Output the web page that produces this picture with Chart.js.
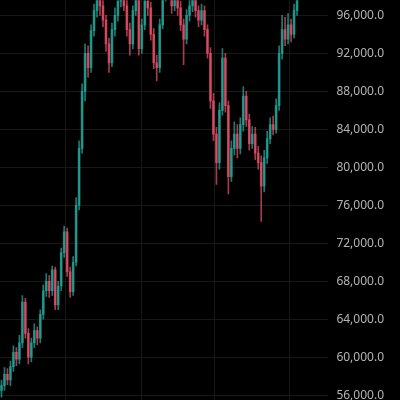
<!DOCTYPE html>
<html>
<head>
<meta charset="utf-8">
<script src="https://cdn.jsdelivr.net/npm/chart.js@4"></script>
<style>
  html, body { margin: 0; padding: 0; background: #000; overflow: hidden; }
  #wrap { position: relative; top: -15px; width: 400px; height: 432px; }
</style>
</head>
<body>
<div id="wrap"><canvas id="candles"></canvas></div>
<script>
// daily candles
const opens = [56500,57000,58200,57600,59000,60500,59800,61500,65800,62500,
  60000,61500,62800,62000,64500,67000,68000,67000,69200,65500,
  67500,71000,73200,69000,66900,70000,76000,82000,88000,92000,
  90500,94400,96500,98000,97000,95500,93000,91000,94500,96000,
  97500,98500,97000,94500,93000,96500,98000,92500,95000,97500,
  96800,94000,91000,90500,95000,98000,99000,98500,97000,99000,
  96800,95000,93500,96000,97000,98000,96500,95500,96500,94500,
  92000,87000,83500,80500,86000,91500,86500,79000,82000,83500,
  82000,84500,87500,85000,82500,83500,81500,80500,78000,81000,
  83000,84500,84000,86500,92000,94500,93500,95000,94000,96500];
const closes = [57000,58200,57600,59000,60500,59800,61500,65800,62500,60000,
  61500,62800,62000,64500,67000,68000,67000,69200,65500,67500,
  71000,73200,69000,66900,70000,76000,82000,88000,92000,90500,
  94400,96500,98000,97000,95500,93000,91000,94500,96000,97500,
  98500,97000,94500,93000,96500,98000,92500,95000,97500,96800,
  94000,91000,90500,95000,98000,99000,98500,97000,99000,96800,
  95000,93500,96000,97000,98000,96500,95500,96500,94500,92000,
  87000,83500,80500,86000,91500,86500,79000,82000,83500,82000,
  84500,87500,85000,82500,83500,81500,80500,78000,81000,83000,
  84500,84000,86500,92000,94500,93500,95000,94000,96500,98000];
const highs = [57600,58900,58800,59600,61200,61000,62300,66500,66200,63000,
  62000,63500,63200,65000,67600,68800,68600,69600,69500,68000,
  71500,73800,73600,69500,70600,76800,82800,88800,93000,92800,
  95000,97200,99000,98800,97800,96000,93600,95200,96800,98300,
  99300,99200,97600,95200,97000,98800,98600,95600,98200,98200,
  97400,94600,91800,95600,98800,99800,99800,99200,99800,99500,
  97500,95600,96600,97800,98800,98600,97000,97200,97000,95000,
  92600,87800,84200,86800,92500,92000,87000,82800,84800,84500,
  85200,88500,88000,85600,84300,84200,82200,81200,81800,83800,
  85200,85400,87200,92800,96000,95800,96200,95600,97200,98800];
const lows = [55800,56500,57100,57000,58500,59100,59300,61000,62000,59300,
  59500,61000,61300,61500,64000,66400,66300,66500,65000,65000,
  67000,70500,68500,66300,66500,69600,75500,81500,87000,89500,
  90000,93800,95800,96000,94800,92200,90000,90600,93800,95400,
  96900,96500,93800,91800,92500,96000,91800,92000,94500,96000,
  93400,90400,89100,90000,94600,97500,97800,96200,96500,96000,
  94400,90800,93000,95400,96400,95800,94800,95000,93800,91500,
  86200,82800,78200,79800,85500,85800,77200,78500,81300,81000,
  81400,83800,84300,81800,82000,80800,79800,74300,77400,80400,
  82500,83400,83600,86000,91400,92800,93000,93200,93600,96000];
const priceTicks = [56000,60000,64000,68000,72000,76000,80000,84000,88000,92000,96000];
const timeGrid = [21.5, 47, 71.5, 96.5];

const UP = 'rgba(38,166,154,0.75)';
const DOWN = 'rgba(239,83,110,0.7)';
const colors = closes.map((c, i) => c >= opens[i] ? UP : DOWN);

new Chart(document.getElementById('candles'), {
  type: 'bar',
  data: {
    datasets: [{
      label: 'wick',
      data: highs.map((h, i) => ({ x: i, y: [lows[i], h] })),
      backgroundColor: colors,
      barThickness: 1,
      grouped: false
    }, {
      label: 'body',
      data: opens.map((o, i) => ({ x: i, y: [o, closes[i]] })),
      backgroundColor: colors,
      barThickness: 2,
      minBarLength: 1,
      grouped: false
    }]
  },
  options: {
    responsive: true,
    maintainAspectRatio: false,
    animation: false,
    layout: { padding: { right: 8, top: 0, bottom: 0, left: 0 } },
    plugins: { legend: { display: false }, tooltip: { enabled: false } },
    scales: {
      x: {
        type: 'linear',
        offset: false,
        min: -0.5,
        max: 109.5,
        afterBuildTicks: s => { s.ticks = timeGrid.map(v => ({ value: v })); },
        ticks: { display: false },
        grid: { color: '#181818', drawTicks: false, offset: false },
        border: { display: false }
      },
      y: {
        position: 'right',
        min: 55300,
        max: 97600,
        afterBuildTicks: s => { s.ticks = priceTicks.map(v => ({ value: v })); },
        ticks: {
          color: '#b4b4b4',
          padding: 8,
          font: { family: 'Noto Sans', size: 12 },
          callback: v => v.toLocaleString('en-US', { minimumFractionDigits: 1 })
        },
        grid: { color: '#181818', drawTicks: false },
        border: { display: false }
      }
    }
  }
});
</script>
</body>
</html>
